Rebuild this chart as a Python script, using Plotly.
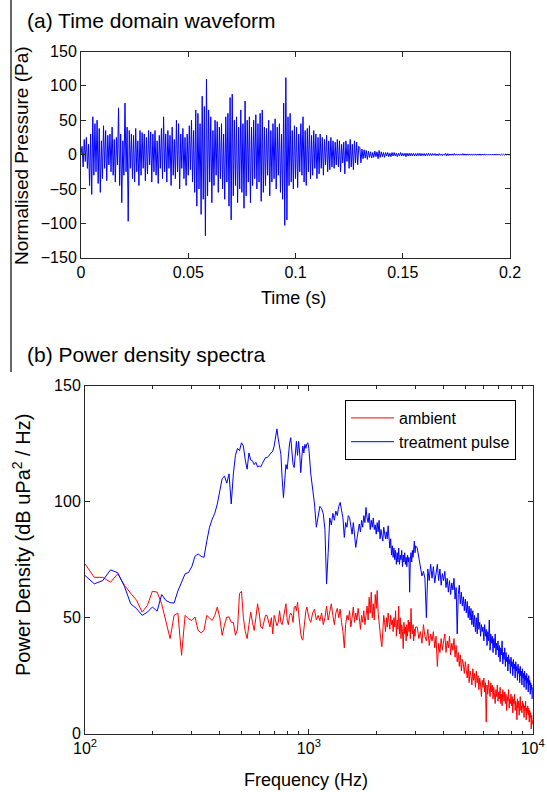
import numpy as np
import plotly.graph_objects as go

# ---------------- (a) Time domain waveform ----------------
dt = 0.0005  # sample spacing (s)
pressure = [
    0, 12, -18, 22, -10, 25, -20, 15, -45, 30,
    -58, 55, -30, 45, -25, 50, -42, 38, -55, 20,
    -35, 42, -20, 35, -38, 28, -15, 30, -25, 40,
    -30, 22, -40, 25, -15, 68, -45, 30, -70, 20,
    -30, 75, -25, 40, -97, 35, -20, 30, -35, 28,
    -40, 38, -25, 20, -45, 35, -30, 32, -20, 30,
    -38, 25, -28, 35, -15, 33, -40, 30, -25, 35,
    -30, 20, -42, 28, -20, 38, -35, 55, -25, 30,
    -40, 35, -20, 28, -45, 40, -30, 22, -35, 50,
    -25, 45, -50, 30, -20, 38, -35, 25, -45, 30,
    -30, 42, -22, 50, -40, 35, -55, 65, -75, 60,
    -50, 45, -87, 85, -65, 70, -118, 110, -60, 65,
    -40, 55, -70, 35, -45, 50, -30, 48, -55, 40,
    -35, 45, -50, 30, -65, 55, -40, 60, -75, 83,
    -95, 88, -60, 50, -45, 55, -70, 40, -50, 65,
    -55, 45, -78, 78, -60, 50, -40, 55, -70, 40,
    -45, 50, -35, 58, -50, 45, -40, 60, -68, 65,
    -55, 40, -45, 38, -30, 50, -60, 35, -40, 45,
    -35, 52, -50, 40, -30, 45, -55, 30, -65, 75,
    -103, 112, -95, 55, -45, 60, -40, 35, -50, 42,
    -35, 40, -48, 30, -25, 45, -30, 55, -40, 35,
    -45, 38, -25, 42, -35, 28, -30, 35, -20, 30,
    -35, 25, -28, 30, -20, 25, -30, 22, -15, 28,
    -25, 20, -22, 25, -18, 20, -20, 18, -15, 22,
    -18, 20, -25, 15, -12, 18, -28, 20, -10, 15,
    -20, 22, -18, 15, -22, 20, -12, 18, -15, 12,
    10, -12, 8, -6, 7, -5, 6, -7, 5, -4,
    4, -5, 3, -4, 5, -3, 4, -6, 6, -4,
    4, -3, 3, -4, 3, -2, 3, -3, 2, -3,
    3, -2, 3, -2, 2, -3, 2, -2, 3, -2,
    2, -2, 2, -3, 2, -2, 2, -2, 2, -2,
    2, -2, 1.5, -2, 2, -1.5, 2, -2, 1.5, -1.5,
    1.5, -2, 1.5, -1.5, 2, -1.5, 1.5, -1.5, 1.5, -1,
    1.5, -1.5, 1, -1.5, 1.5, -1, 1, -1.5, 1, -1,
    2, -2, 1.5, -1.5, 1, -1, 1, -1, 1.5, -1,
    1, -1, 1, -1, 1, -1, 1.5, -1, 1, -1,
    1, -1, 1, -1, 1, -1, 1, -1, 1, -1,
    1, -1, 1, -1, 0.8, -0.8, 1, -1, 0.8, -0.8,
    0.8, -0.8, 0.8, -0.8, 0.8, -0.8, 0.8, -0.8, 0.8, -0.8,
    0.8, -0.8, 0.6, -0.6, 0.6, -0.6, 0.6, -0.6, 0.6, -0.6, 0,
]
time = np.arange(len(pressure)) * dt

time_ticks = [0, 0.05, 0.1, 0.15, 0.2]
time_ticktext = ["0", "0.05", "0.1", "0.15", "0.2"]
pressure_ticks = [-150, -100, -50, 0, 50, 100, 150]

# ---------------- (b) Power density spectra ----------------
freq_low = np.arange(100, 1001, 10)
freq_mid = np.arange(1020, 3001, 20)
freq_high = np.arange(3050, 10001, 50)

ambient_low = [
    73.2, 67.4, 67.4, 65.3, 68.9, 64, 60.5, 57.5, 52.4, 55.3,
    61.4, 61, 56, 48.8, 41, 51, 52, 33.8, 51, 49.5,
    48.8, 50.3, 44.5, 43.5, 44.5, 51, 50, 48.8, 51, 54.6,
    50, 42.4, 47, 50.3, 50.3, 48, 48, 42.4, 45, 60.4,
    61.4, 50, 44, 41, 47, 52.4, 48, 44.5, 50, 56,
    52, 46, 45.3, 48, 51, 51, 49, 46, 50, 43,
    51, 49, 46.5, 48, 53, 48, 47, 50, 53, 56,
    49, 47, 51, 52, 51, 48, 54.5, 55, 53, 56.7,
    52, 47, 43, 41, 40.3, 45, 50, 53, 54.6, 52,
    50,
]
ambient_mid = [
    48, 52, 53.7, 49, 51, 48.7, 52, 47, 50, 55,
    49, 53, 56, 51, 47, 52, 54, 50, 53.7, 48,
    44, 37, 47, 51, 49, 53, 46, 50, 54.6, 48,
    52, 49, 54, 50, 45, 51, 48, 53, 47, 51,
    55, 49, 58.8, 52, 61, 50, 56, 49, 60, 54,
    61.7, 52, 47, 43, 40, 37.5, 46, 51, 48, 44,
    50, 46, 52, 48, 45, 51, 47, 49, 44, 50,
    46, 53, 42, 49, 45, 55, 43, 50, 41, 47,
    44, 36.7, 48, 43, 46, 40, 47, 42, 49, 44,
    48, 41, 54, 45, 43, 47, 40, 45, 42, 46,
]
ambient_high = [
    46, 41, 44, 39, 47, 42, 40, 45, 38, 43,
    40, 44, 37, 42, 29, 39, 35, 41, 36, 40,
    43, 35, 40, 37, 42, 34, 39, 36, 41, 33,
    38, 31, 35, 29, 34, 27, 32, 30, 26, 31,
    28, 24, 30, 22, 27, 25, 21, 28, 23, 26,
    20, 27, 22, 25, 19, 24, 21, 16, 23, 20,
    24, 18, 22, 5, 21, 17, 23, 19, 16, 22,
    18, 21, 15, 20, 17, 13, 19, 16, 21, 14,
    18, 15, 20, 13, 17, 12, 19, 16, 14, 18,
    13, 17, 10, 16, 14, 19, 11, 15, 13, 17,
    12, 16, 9, 15, 13, 17, 10, 14, 12, 6,
    15, 11, 14, 8, 13, 16, 10, 12, 9, 14,
    11, 13, 7, 12, 10, 14, 6, 11, 9, 12,
    8, 11, 5, 10, 7, 9, 2, 8, 4, 6,
]

treatment_low = [
    68.2, 64.6, 66, 70.6, 69.4, 63.5, 56, 53.9, 51, 52.4,
    54.6, 52.8, 60, 57.4, 56.5, 56.3, 61.5, 65.5, 68.9, 69.5,
    72, 76.5, 77.5, 76.5, 76, 83, 89, 92.5, 95, 99,
    104, 110, 111, 108, 112, 99, 112, 120, 123, 122,
    125.4, 124, 118, 114, 121, 118, 117.6, 116, 117, 115,
    115.4, 115, 116.5, 118, 119, 119, 119.5, 120.5, 121, 121.8,
    124, 129, 131.4, 127, 123, 120.4, 110, 101.8, 109, 116,
    114, 120, 125, 127.6, 121, 116, 114.7, 122, 126, 120,
    126, 121, 112.5, 119, 124, 121, 124.7, 123, 125, 125.4,
    123,
]
treatment_mid = [
    112, 106, 99, 89, 94, 98, 97, 94.8, 88, 64.5,
    78, 93, 90, 95, 92, 96, 94, 98, 99.7, 96,
    93, 84.6, 91, 89, 94, 93.2, 90, 86, 91, 85,
    80.3, 84, 88, 90.4, 87, 92, 89, 94, 91, 97.5,
    93, 91, 95, 88, 92, 89, 93, 88, 90, 86,
    91, 87, 92, 84, 88, 85, 83, 89, 86, 84,
    87, 84, 89.6, 82, 80, 84, 77, 81, 76, 80,
    75, 79, 73, 78, 74, 80, 73, 77, 75, 79,
    72, 77, 74, 78, 73, 76, 72, 77, 74, 76,
    61, 75, 78, 74, 79, 76, 80, 83, 78, 81,
]
treatment_high = [
    80, 76, 72, 68, 70, 67, 50, 71, 66, 73,
    67, 72, 65, 70, 73, 66, 71, 64, 69, 66,
    70, 63, 67, 61, 66, 60, 65, 62, 67, 58,
    63, 43, 60, 64, 56, 61, 55, 59, 53, 58,
    52, 57, 50, 55, 49, 54, 47, 53, 46, 51,
    44, 50, 43, 52, 45, 48, 42, 47, 44, 46,
    40, 47, 42, 45, 38, 44, 40, 49, 36, 43,
    39, 42, 35, 41, 37, 43, 34, 39, 36, 40,
    33, 38, 31, 37, 34, 40, 30, 35, 32, 37,
    29, 35, 31, 33, 27, 34, 30, 32, 26, 33,
    29, 31, 25, 32, 28, 30, 24, 31, 27, 29,
    23, 30, 26, 28, 22, 29, 25, 27, 21, 28,
    24, 26, 20, 27, 23, 25, 19, 26, 22, 24,
    18, 25, 21, 23, 17, 22, 19, 21, 15, 20,
]

freq_ticks = [100, 1000, 10000]
freq_ticktext = ["10<sup>2</sup>", "10<sup>3</sup>", "10<sup>4</sup>"]
freq_minor = [200, 300, 400, 500, 600, 700, 800, 900,
              2000, 3000, 4000, 5000, 6000, 7000, 8000, 9000]
density_ticks = [0, 50, 100, 150]


def join(fs, vs):
    xs, ys = [], []
    for f, v in zip(fs, vs):
        n = min(len(f), len(v))
        xs.extend(list(f[:n]))
        ys.extend(list(v[:n]))
    return xs, ys


freq_a, ambient = join([freq_low, freq_mid, freq_high], [ambient_low, ambient_mid, ambient_high])
freq_t, treatment = join([freq_low, freq_mid, freq_high], [treatment_low, treatment_mid, treatment_high])

W, H = 547, 792
FONT = "Liberation Sans, Arial, sans-serif"
AX = "#262626"


def px(x):
    return x / W


def py(y):
    return 1 - y / H


fig = go.Figure()
fig.add_trace(go.Scatter(x=time, y=pressure, mode="lines",
                         line=dict(color="#0000ff", width=1),
                         showlegend=False, xaxis="x", yaxis="y"))
fig.add_trace(go.Scatter(x=freq_a, y=ambient, mode="lines", name="ambient",
                         line=dict(color="#ff0000", width=1),
                         xaxis="x2", yaxis="y2"))
fig.add_trace(go.Scatter(x=freq_t, y=treatment, mode="lines", name="treatment pulse",
                         line=dict(color="#0000ff", width=1),
                         xaxis="x2", yaxis="y2"))

common = dict(showline=True, linecolor=AX, linewidth=1, mirror="ticks",
              ticks="inside", tickcolor=AX, ticklen=5, showgrid=False,
              zeroline=False, automargin=False,
              tickfont=dict(size=16, color="black", family=FONT))

fig.update_layout(
    template="none",
    width=W, height=H, autosize=False,
    margin=dict(l=0, r=0, t=0, b=0, pad=0, autoexpand=False),
    paper_bgcolor="white", plot_bgcolor="white",
    font=dict(family=FONT, color="black"),
    xaxis=dict(domain=[px(81), px(510)], range=[0, 0.2], anchor="y",
               tickvals=time_ticks, ticktext=time_ticktext, **common),
    yaxis=dict(domain=[py(257.7), py(51.5)], range=[-150, 150], anchor="x",
               tickvals=pressure_ticks, **common),
    xaxis2=dict(domain=[px(85), px(532.7)], type="log", range=[2, 4], anchor="y2",
                tickvals=freq_ticks, ticktext=freq_ticktext,
                minor=dict(ticks="inside", ticklen=3, tickcolor=AX, tickvals=freq_minor),
                **common),
    yaxis2=dict(domain=[py(733.7), py(385.7)], range=[0, 150], anchor="x2",
                tickvals=density_ticks, **common),
    legend=dict(x=px(345), y=py(400), xanchor="left", yanchor="top",
                bgcolor="white", bordercolor="black", borderwidth=1,
                font=dict(size=16, family=FONT, color="black"),
                itemwidth=43, tracegroupgap=0),
    shapes=[dict(type="line", xref="paper", yref="paper",
                 x0=px(11), x1=px(11), y0=1, y1=py(372),
                 line=dict(color="black", width=1.2))],
    annotations=[
        dict(text="(a) Time domain waveform", x=px(25), y=py(20), xref="paper", yref="paper",
             xanchor="left", yanchor="middle", showarrow=False, font=dict(size=21)),
        dict(text="(b) Power density spectra", x=px(25), y=py(354), xref="paper", yref="paper",
             xanchor="left", yanchor="middle", showarrow=False, font=dict(size=21)),
        dict(text="Time (s)", x=px(293), y=py(298), xref="paper", yref="paper",
             xanchor="center", yanchor="middle", showarrow=False, font=dict(size=18)),
        dict(text="Frequency (Hz)", x=px(306), y=py(780), xref="paper", yref="paper",
             xanchor="center", yanchor="middle", showarrow=False, font=dict(size=18)),
        dict(text="Normalised Pressure (Pa)", x=px(21), y=py(156), xref="paper", yref="paper",
             xanchor="center", yanchor="middle", textangle=-90, showarrow=False,
             font=dict(size=19)),
        dict(text="Power Density (dB uPa<sup>2</sup> / Hz)", x=px(21), y=py(545),
             xref="paper", yref="paper", xanchor="center", yanchor="middle",
             textangle=-90, showarrow=False, font=dict(size=20)),
    ],
)

# remove the browser's default 8 px page margin so the figure fills the window exactly
fig.write_html("out.html",
               config={"displayModeBar": False},
               post_script="document.body.style.margin='0';"
                           "document.body.style.overflow='hidden';")
